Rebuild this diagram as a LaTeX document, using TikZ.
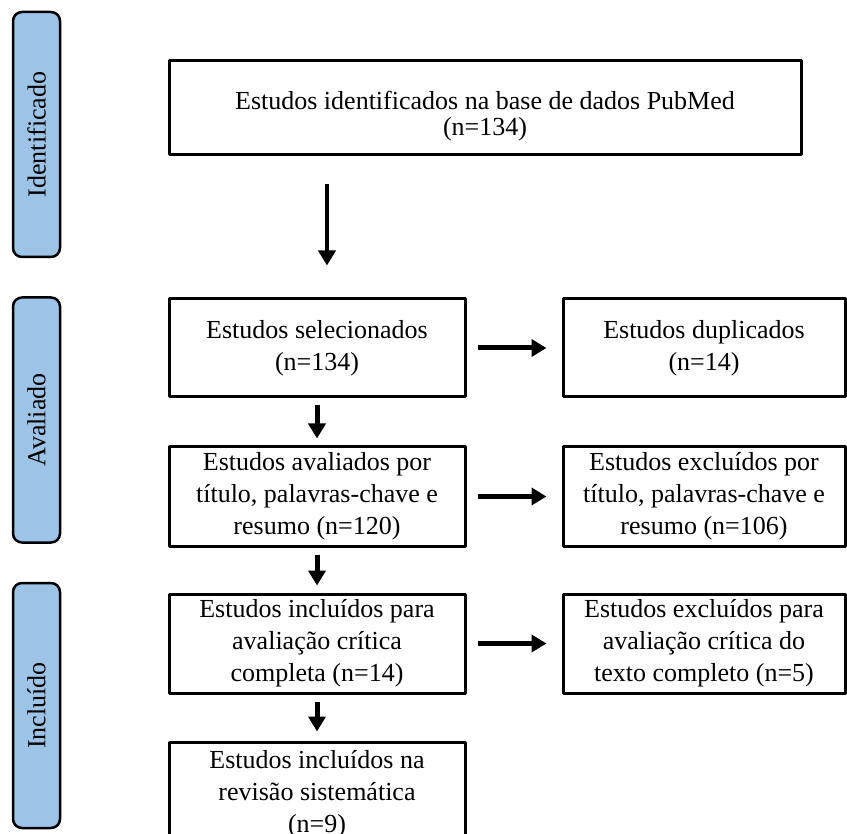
\documentclass[tikz,border=0pt]{standalone}
\usepackage{fontspec}
\setmainfont{Liberation Serif}
\usetikzlibrary{arrows.meta}
\definecolor{barblue}{RGB}{157,195,230}
\begin{document}
\begin{tikzpicture}[x=1pt, y=-1pt, line join=round,
	box/.style={draw, line width=3pt, align=center, inner sep=0pt, font=\fontsize{26}{32}\selectfont},
	leftbox/.style={box, minimum width=296pt, minimum height=99pt},
	rightbox/.style={box, minimum width=282pt, minimum height=99pt},
	sidebar/.style={draw, line width=2.5pt, fill=barblue, rounded corners=9pt, rotate=90,
		minimum width=245pt, minimum height=47pt, inner sep=0pt, font=\fontsize{26}{32}\selectfont},
	flow/.style={-{Triangle[length=15pt, width=17pt]}, line width=5pt}]
	% 0. Page frame
	\useasboundingbox (0,0) rectangle (847,834);
	
	% 1. Phase bars on the left
	\node[sidebar] (phaseid) at (36.5,134.5) {Identificado};
	\node[sidebar] (phaseav) at (36.5,420) {Avaliado};
	\node[sidebar] (phasein) at (36.5,705.5) {Incluído};
	
	% 2. Main column
	\node[box, minimum width=632pt, minimum height=94pt, font=\fontsize{26}{26}\selectfont] (ident) at (485,108)
		{\rule{0pt}{34pt}Estudos identificados na base de dados PubMed\\(n=134)};
	\node[leftbox, minimum height=98pt] (sel) at (317,348) {Estudos selecionados\\(n=134)};
	\node[leftbox] (aval) at (317,496.5) {Estudos avaliados por\\título, palavras-chave e\\resumo (n=120)};
	\node[leftbox] (incl) at (317,643.5) {Estudos incluídos para\\avaliação crítica\\completa (n=14)};
	\node[leftbox, minimum height=104pt] (final) at (317,794) {Estudos incluídos na\\revisão sistemática\\(n=9)};
	
	% 3. Excluded column
	\node[rightbox, minimum height=98pt] (dup) at (704,348) {Estudos duplicados\\(n=14)};
	\node[rightbox] (exclA) at (704,496.5) {Estudos excluídos por\\título, palavras-chave e\\resumo (n=106)};
	\node[rightbox] (exclB) at (704,643.5) {Estudos excluídos para\\avaliação crítica do\\texto completo (n=5)};
	
	% 4. Arrows
	\coordinate (topin) at ([xshift=10pt]sel.north);
	\draw[flow, line width=4pt, shorten <=28pt, shorten >=32pt] (ident.south -| topin) -- (topin);
	\draw[flow, shorten <=7pt, shorten >=7pt] (sel) -- (aval);
	\draw[flow, shorten <=7pt, shorten >=7pt] (aval) -- (incl);
	\draw[flow, shorten <=7pt, shorten >=9pt] (incl) -- (final);
	
	\draw[flow, shorten <=11pt, shorten >=15pt] (sel) -- (dup);
	\draw[flow, shorten <=11pt, shorten >=15pt] (aval) -- (exclA);
	\draw[flow, shorten <=11pt, shorten >=15pt] (incl) -- (exclB);
\end{tikzpicture}
\end{document}
